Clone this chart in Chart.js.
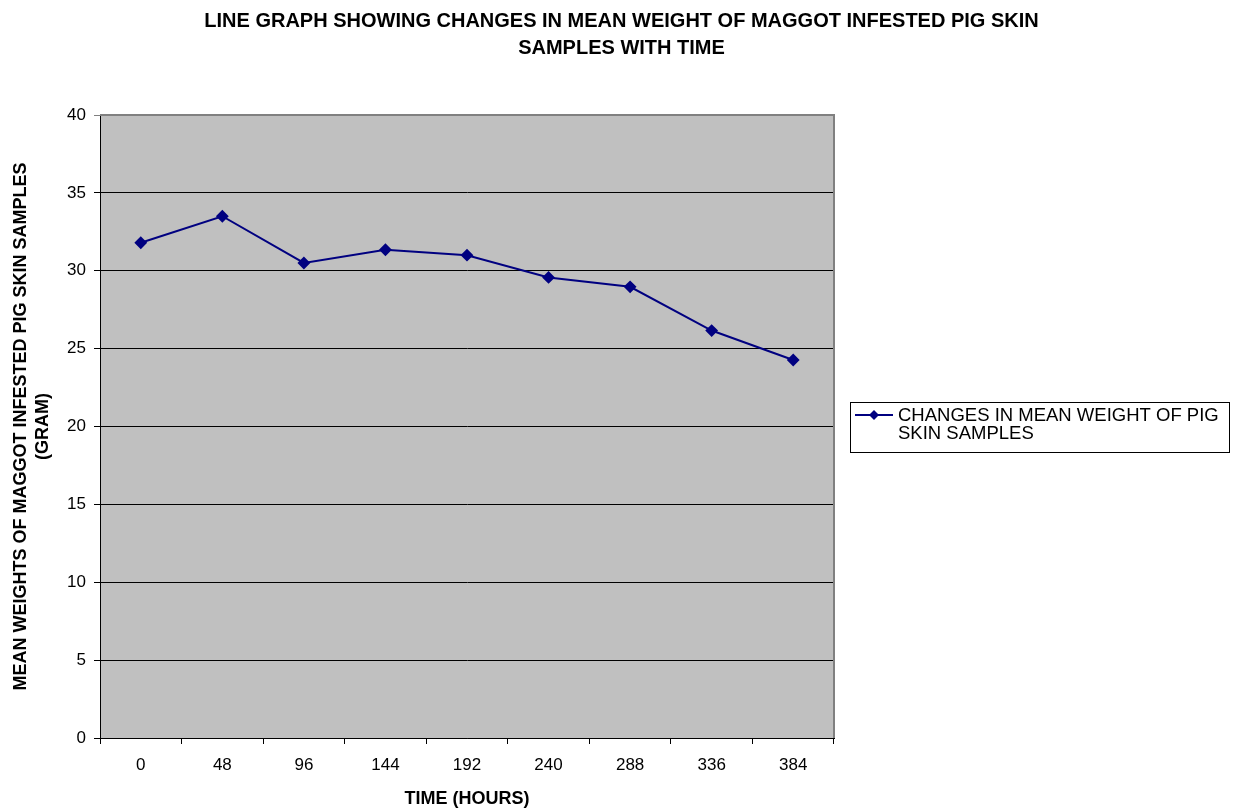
<!DOCTYPE html>
<html>
<head>
<meta charset="utf-8">
<script src="https://cdn.jsdelivr.net/npm/chart.js@4/dist/chart.umd.min.js"></script>
<style>
  html, body { margin: 0; padding: 0; background: #fff; }
  #wrap { width: 1243px; height: 812px; }
</style>
</head>
<body>
<div id="wrap"><canvas id="linegraph"></canvas></div>
<script>
// data
const hours = ['0', '48', '96', '144', '192', '240', '288', '336', '384']
const meanWeights = [31.8, 33.5, 30.5, 31.35, 31.0, 29.57, 28.97, 26.16, 24.27]
const seriesName = ['CHANGES IN MEAN WEIGHT OF PIG', 'SKIN SAMPLES']
const titleLines = ['LINE GRAPH SHOWING CHANGES IN MEAN WEIGHT OF MAGGOT INFESTED PIG SKIN', 'SAMPLES WITH TIME']
const yTitle = ['MEAN WEIGHTS OF MAGGOT INFESTED PIG SKIN SAMPLES', '(GRAM)']
const xTitle = 'TIME (HOURS)'

const navy = '#000080'
const fontName = '"Liberation Sans", Arial, sans-serif'

// grey plot area with grey top / right edge
const plotBack = {
  id: 'plotBack',
  beforeDraw(chart) {
    const {ctx, chartArea: a} = chart
    ctx.save()
    ctx.fillStyle = '#c0c0c0'
    ctx.fillRect(a.left, a.top, a.right - a.left, a.bottom - a.top)
    ctx.restore()
  },
  afterDatasetsDraw(chart) {
    const {ctx, chartArea: a} = chart
    ctx.save()
    ctx.strokeStyle = '#808080'
    ctx.lineWidth = 2
    ctx.beginPath()
    ctx.moveTo(a.left, a.top)
    ctx.lineTo(a.right, a.top)
    ctx.lineTo(a.right, a.bottom)
    ctx.stroke()
    ctx.restore()
  }
}

// boxed legend with wrapped text, at the right
const boxLegend = {
  id: 'boxLegend',
  afterDraw(chart) {
    const ctx = chart.ctx
    const x = 850, y = 402, w = 379, h = 50
    ctx.save()
    ctx.fillStyle = '#fff'
    ctx.fillRect(x, y, w, h)
    ctx.strokeStyle = '#000'
    ctx.lineWidth = 1
    ctx.strokeRect(x + 0.5, y + 0.5, w, h)
    ctx.strokeStyle = navy
    ctx.lineWidth = 2
    ctx.beginPath()
    ctx.moveTo(855, 415)
    ctx.lineTo(893, 415)
    ctx.stroke()
    ctx.fillStyle = navy
    ctx.beginPath()
    ctx.moveTo(874, 410)
    ctx.lineTo(879, 415)
    ctx.lineTo(874, 420)
    ctx.lineTo(869, 415)
    ctx.closePath()
    ctx.fill()
    ctx.fillStyle = '#000'
    ctx.font = '18.5px ' + fontName
    ctx.textBaseline = 'middle'
    ctx.fillText(seriesName[0], 898, 416)
    ctx.fillText(seriesName[1], 898, 434)
    ctx.restore()
  }
}

const chart = document.getElementById('linegraph')

let lineChart = new Chart(chart, {
  type: 'line',
  data: {
    labels: hours,
    datasets: [
      {
        label: seriesName.join(' '),
        data: meanWeights,
        borderColor: navy,
        backgroundColor: navy,
        borderWidth: 2,
        fill: false,
        tension: 0,
        pointStyle: 'rectRot',
        pointRadius: 5,
        pointHoverRadius: 5,
        yAxisID: 'y'
      }
    ]
  },
  options: {
    responsive: true,
    maintainAspectRatio: false,
    animation: false,
    layout: { padding: 0 },
    plugins: {
      legend: { display: false },
      tooltip: { enabled: false },
      title: {
        display: true,
        text: titleLines,
        color: '#000',
        font: { family: fontName, size: 20, weight: 'bold', lineHeight: 1.35 },
        padding: { top: 7.5, bottom: 53.5 }
      }
    },
    scales: {
      x: {
        type: 'category',
        offset: true,
        grid: { display: true, offset: true, drawOnChartArea: false, drawTicks: true, tickLength: 6, color: '#000' },
        border: { color: '#000', width: 1 },
        ticks: { color: '#000', font: { family: fontName, size: 17 }, padding: 11, maxRotation: 0 },
        title: {
          display: true,
          text: xTitle,
          color: '#000',
          font: { family: fontName, size: 18, weight: 'bold', lineHeight: 1.2 },
          padding: { top: 0, bottom: 2 }
        },
        afterFit(scale) { scale.height = 74 }
      },
      y: {
        position: 'left',
        min: 0,
        max: 40,
        ticks: { stepSize: 5, color: '#000', font: { family: fontName, size: 17 }, padding: 8 },
        grid: {
          color: (c) => (c.tick && c.tick.value === 40 ? '#808080' : '#000'),
          tickLength: 6,
          lineWidth: 1
        },
        border: { color: '#000', width: 1 },
        title: {
          display: true,
          text: yTitle,
          color: '#000',
          font: { family: fontName, size: 18, weight: 'bold', lineHeight: 1.22 },
          padding: { top: 10, bottom: 0 }
        },
        afterFit(scale) { scale.width = 100 }
      },
      // empty right axis that keeps room for the legend box
      legendRoom: {
        type: 'linear',
        position: 'right',
        display: true,
        ticks: { display: false },
        grid: { display: false },
        border: { display: false },
        afterFit(scale) { scale.width = 409 }
      }
    }
  },
  plugins: [plotBack, boxLegend]
})
</script>
</body>
</html>
